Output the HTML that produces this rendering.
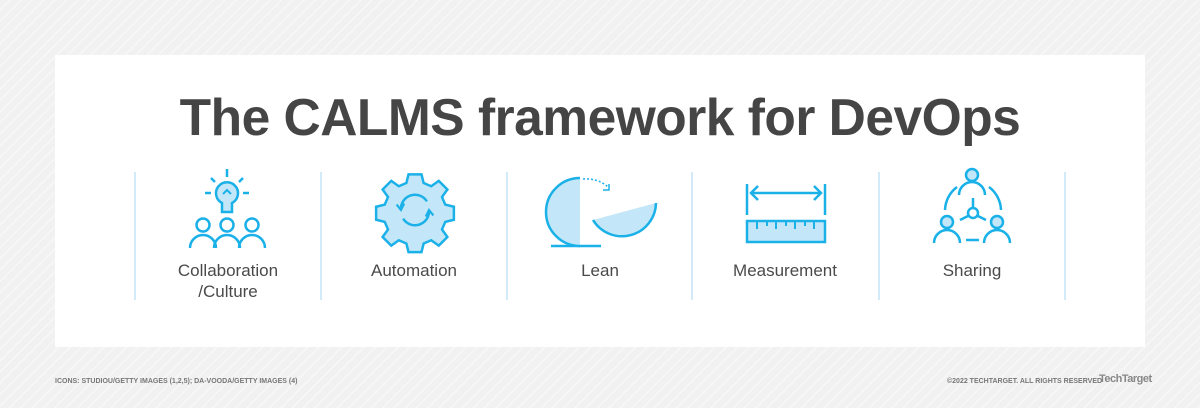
<!DOCTYPE html>
<html><head><style>
html,body{margin:0;padding:0}
body{width:1200px;height:408px;position:relative;overflow:hidden;font-family:"Liberation Sans",sans-serif;
background:#f1f1f1 repeating-linear-gradient(135deg,#f1f1f1 0 6px,#f6f6f6 6px 8px);}
.panel{position:absolute;left:55px;top:55px;width:1090px;height:292px;background:#fff}
h1{position:absolute;left:0;top:87px;width:1200px;text-align:center;margin:0;font-size:51.5px;font-weight:bold;color:#454545;letter-spacing:-0.5px}
.div{position:absolute;top:172px;width:2px;height:128px;background:#d3ebf8}
.lab{position:absolute;top:260px;width:186px;text-align:center;font-size:17px;color:#4a4a4a;line-height:21px}
.ft{position:absolute;top:378px;font-size:7px;color:#777;font-weight:bold}
</style></head><body>
<div class="panel"></div>
<h1>The CALMS framework for DevOps</h1>
<div class="div" style="left:134px"></div><div class="div" style="left:320px"></div><div class="div" style="left:506px"></div><div class="div" style="left:691px"></div><div class="div" style="left:878px"></div><div class="div" style="left:1064px"></div>
<div class="lab" style="left:135px">Collaboration<br>/Culture</div>
<div class="lab" style="left:321px">Automation</div>
<div class="lab" style="left:507px">Lean</div>
<div class="lab" style="left:692px">Measurement</div>
<div class="lab" style="left:879px">Sharing</div>
<svg width="1200" height="408" style="position:absolute;left:0;top:0" fill="none" stroke="#1ab0e8" stroke-width="2.5">
<!-- collaboration -->
<g>
<line x1="227" y1="169" x2="227" y2="177"/><line x1="205" y1="193" x2="211" y2="193"/><line x1="243" y1="193" x2="249" y2="193"/>
<line x1="211" y1="178" x2="215" y2="182"/><line x1="243" y1="178" x2="239" y2="182"/>
<path d="M222 212 L222 203 A11 11 0 1 1 232 203 L232 212 Z" fill="#c3e7f8"/>
<path d="M223 194 l4 -4 l4 4" stroke-width="2"/>
<circle cx="203" cy="225" r="6.5"/><circle cx="227" cy="225" r="6.5"/><circle cx="252" cy="225" r="6.5"/>
<path d="M190 248 a13 13 0 0 1 26 0 M214 248 a13 13 0 0 1 26 0 M239 248 a13 13 0 0 1 26 0"/>
</g>
<!-- gear -->
<g transform="translate(415,210) scale(1.08)">
<path fill="#c3e7f8" d="M-6 -33 h12 l2 8 l7 3 l7 -5 l8 8 l-5 7 l3 7 l8 2 v12 l-8 2 l-3 7 l5 7 l-8 8 l-7 -5 l-7 3 l-2 8 h-12 l-2 -8 l-7 -3 l-7 5 l-8 -8 l5 -7 l-3 -7 l-8 -2 v-12 l8 -2 l3 -7 l-5 -7 l8 -8 l7 5 l7 -3 z" stroke-width="2.3"/>
<path d="M-13 -2 A13 13 0 0 1 11 -8 M13 2 A13 13 0 0 1 -11 8" stroke-width="2.3"/>
<path d="M-17 -5 l4 5 l3 -6 M17 5 l-4 -5 l-3 6" stroke-width="2"/>
</g>
<!-- lean -->
<g>
<path d="M551 246 h50"/>
<path d="M580 246 L580 178 A34 34 0 0 0 580 246 Z" fill="#c3e7f8" stroke="none"/>
<path d="M580 178 A34 34 0 0 0 580 246"/>
<path d="M593 220 A34 34 0 0 0 656 203 Z" fill="#c3e7f8" stroke="none"/>
<path d="M593 220 A34 34 0 0 0 656 203"/>
<path d="M583 179 Q598 178 608 187" stroke-width="1.5" stroke-dasharray="2 2"/>
<path d="M603 190 l6 0 l0 -6" stroke-width="1.5"/>
</g>
<!-- measurement -->
<g>
<line x1="747" y1="184" x2="747" y2="215"/><line x1="825" y1="184" x2="825" y2="215"/>
<line x1="751" y1="193" x2="821" y2="193"/>
<path d="M758 186 l-7 7 l7 7 M814 186 l7 7 l-7 7"/>
<rect x="747" y="221" width="78" height="21" fill="#c3e7f8"/>
<path d="M757 221v8 M767 221v5 M776 221v8 M786 221v5 M795 221v8 M805 221v5 M814 221v8" stroke-width="2"/>
</g>
<!-- sharing -->
<g>
<circle cx="972" cy="175" r="6" fill="#c3e7f8"/>
<path d="M959 195 a13 13 0 0 1 26 0"/>
<circle cx="947" cy="222" r="6" fill="#c3e7f8"/><circle cx="997" cy="222" r="6" fill="#c3e7f8"/>
<path d="M934 243 a13 13 0 0 1 26 0 M984 243 a13 13 0 0 1 26 0"/>
<circle cx="973" cy="213" r="5" />
<path d="M973 208 v-10 M968 216 l-8 4 M978 216 l8 4 M966 240 h13"/>
<path d="M945 210 A30 30 0 0 1 957 187 M1001 210 A30 30 0 0 0 989 187"/>
</g>
</svg>
<div class="ft" style="left:55px">ICONS: STUDIOU/GETTY IMAGES (1,2,5); DA-VOODA/GETTY IMAGES (4)</div>
<div class="ft" style="left:947px">©2022 TECHTARGET. ALL RIGHTS RESERVED</div>
<div style="position:absolute;left:1099px;top:373px;font-size:11px;font-weight:bold;color:#888;letter-spacing:-0.5px">TechTarget</div>
</body></html>
